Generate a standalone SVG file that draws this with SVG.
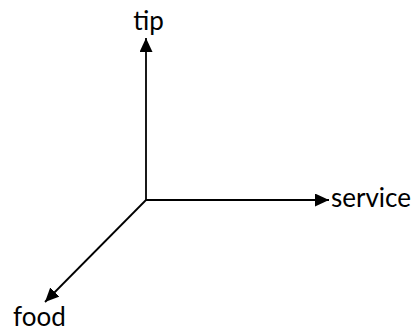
<svg xmlns="http://www.w3.org/2000/svg" width="411" height="331" viewBox="0 0 411 331">
<style>
.axis{stroke:#000;stroke-width:1.8;fill:none}
.lbl{font-family:Lato,"Open Sans","Liberation Sans",sans-serif;font-size:26px;fill:#000}
</style>
<defs>
<marker id="arr" markerUnits="userSpaceOnUse" markerWidth="16" markerHeight="14" refX="14" refY="6.5" orient="auto">
<path d="M0,0 L14,6.5 L0,13 z" fill="#000"/>
</marker>
</defs>
<rect width="411" height="331" fill="#fff"/>
<g id="connectors">
<line class="axis" x1="146" y1="200" x2="146" y2="38" marker-end="url(#arr)"/>
<line class="axis" x1="146" y1="200" x2="329" y2="200" marker-end="url(#arr)"/>
<line class="axis" x1="146" y1="200" x2="45" y2="302" marker-end="url(#arr)"/>
</g>
<g id="tip"><text class="lbl" x="148.5" y="30" text-anchor="middle">tip</text></g>
<g id="service"><text class="lbl" x="331" y="207">service</text></g>
<g id="food"><text class="lbl" x="13" y="325.5">food</text></g>
</svg>
